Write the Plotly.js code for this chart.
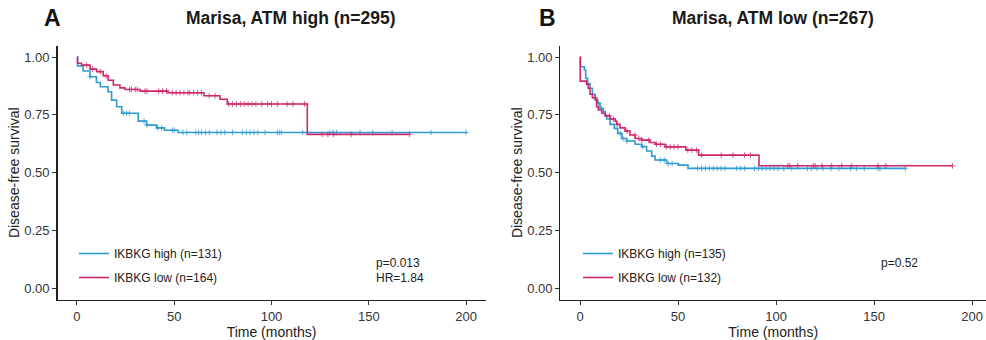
<!DOCTYPE html>
<html>
<head>
<meta charset="utf-8">
<script src="https://cdn.plot.ly/plotly-3.0.1.min.js"></script>
<style>html,body{margin:0;padding:0;background:#fff;}#chart{width:986px;height:340px;}</style>
</head>
<body>
<div id="chart"></div>
<script>
// ---------- Data ----------
// Panel A: Marisa, ATM high (n=295)
const A_high_eventT = [0.3, 3.2, 6.7, 10, 12, 16, 17.8, 20.4, 23, 31.5, 35.8, 41, 45, 52];
const A_high_eventS = [0.962, 0.94, 0.915, 0.89, 0.872, 0.85, 0.814, 0.785, 0.757, 0.723, 0.706, 0.694, 0.684, 0.674];
const A_high_censor = [6.7, 24, 25.5, 27, 34.5, 36, 41.5, 43.5, 49, 50, 54.5, 56.5, 61, 62.5, 64, 66, 68, 72, 74, 76, 80, 85, 87, 89, 91, 93, 96.7, 103, 104, 105, 116, 130, 131.6, 133.5, 145.5, 152, 162, 182, 200];

const A_low_eventT = [0.3, 2.4, 6.7, 10.1, 13.5, 16.1, 18.7, 22.1, 24.7, 32.4, 46.8, 65.3, 73.5, 77.3, 118.4];
const A_low_eventS = [0.973, 0.965, 0.948, 0.937, 0.919, 0.90, 0.879, 0.867, 0.86, 0.853, 0.846, 0.833, 0.818, 0.797, 0.666];
const A_low_censor = [5, 8, 12, 15, 27, 28, 30, 31, 35, 36, 42, 44, 46, 49, 51, 53, 55, 57, 58, 60, 62, 64, 68, 71, 78, 80, 82, 84, 86, 88, 90, 92, 95, 98, 100, 103, 108, 111, 117, 126, 129, 132, 141, 171];

// Panel B: Marisa, ATM low (n=267)
const B_high_eventT = [0.2, 2.2, 2.9, 3.9, 5.1, 6.3, 7.7, 9.0, 10.2, 11.9, 12.8, 13.6, 15.3, 17.5, 19.2, 21.3, 23.8, 28.1, 31.5, 34.0, 36.6, 38.3, 44.2, 50.2, 55.1];
const B_high_eventS = [0.958, 0.944, 0.908, 0.886, 0.865, 0.839, 0.818, 0.80, 0.778, 0.764, 0.749, 0.732, 0.709, 0.692, 0.670, 0.648, 0.637, 0.623, 0.613, 0.594, 0.572, 0.555, 0.540, 0.533, 0.519];
const B_high_censor = [9.5, 11, 20.5, 22, 24, 32, 41, 43, 45, 47, 60, 62, 64, 66, 68, 70, 72, 74, 80, 82, 84, 89, 91, 93, 95, 97, 99, 101, 104, 108, 116, 118, 121, 124, 128, 132, 138, 141, 145, 152, 153, 166];

const B_low_eventT = [0.1, 3.4, 4.2, 5.1, 6.3, 8.0, 8.5, 9.3, 11.1, 12.8, 15.3, 17.9, 18.7, 20.4, 23.0, 25.5, 28.1, 31.5, 35.7, 38.3, 43.4, 54.0, 60.5, 91.3];
const B_low_eventS = [0.896, 0.882, 0.865, 0.839, 0.824, 0.814, 0.785, 0.771, 0.757, 0.746, 0.732, 0.723, 0.709, 0.694, 0.680, 0.663, 0.648, 0.641, 0.631, 0.623, 0.612, 0.598, 0.576, 0.530];
const B_low_censor = [7.7, 15, 17, 19, 24, 28, 30, 31.5, 35, 39, 41, 44, 46, 48, 50, 55, 57, 59.5, 62, 72, 78, 84, 87, 106, 107, 111, 119, 120, 123.5, 128.4, 133.5, 138.6, 152, 156, 190];

const groupNames = {
  A_high: 'IKBKG high (n=131)', A_low: 'IKBKG low (n=164)',
  B_high: 'IKBKG high (n=135)', B_low: 'IKBKG low (n=132)'
};
const panelTitles = ['Marisa, ATM high (n=295)', 'Marisa, ATM low (n=267)'];
const panelLetters = ['A', 'B'];
const statsA = ['p=0.013', 'HR=1.84'];
const statsB = ['p=0.52'];
const xTicks = [0, 50, 100, 150, 200];
const yTicks = [0, 0.25, 0.5, 0.75, 1];

// ---------- Styling ----------
const BLUE = '#2F9BD3', RED = '#D0286C';
const W = 986, H = 340;
const px = x => x / W;
const py = y => 1 - y / H;

function survAt(eT, eS, t) {
  let s = 1;
  for (let i = 0; i < eT.length; i++) { if (eT[i] <= t) s = eS[i]; }
  return s;
}
function kmTraces(eT, eS, cens, color, name, xa, ya, legendId, grp) {
  const tEnd = Math.max(...cens, ...eT);
  const x = [0].concat(eT, [tEnd]);
  const y = [1].concat(eS, [eS[eS.length - 1]]);
  return [
    {type: 'scatter', mode: 'lines', x: x, y: y, xaxis: xa, yaxis: ya,
     line: {shape: 'hv', color: color, width: 1.6}, name: name,
     legend: legendId, legendgroup: grp, hoverinfo: 'skip'},
    {type: 'scatter', mode: 'markers', x: cens, y: cens.map(t => survAt(eT, eS, t)),
     xaxis: xa, yaxis: ya, showlegend: false, hoverinfo: 'skip',
     marker: {symbol: 'cross-thin', size: 4, color: color, opacity: 0.8, line: {color: color, width: 1}}}
  ];
}

const data = [].concat(
  kmTraces(A_high_eventT, A_high_eventS, A_high_censor, BLUE, groupNames.A_high, 'x', 'y', 'legend', 'a1'),
  kmTraces(A_low_eventT, A_low_eventS, A_low_censor, RED, groupNames.A_low, 'x', 'y', 'legend', 'a2'),
  kmTraces(B_high_eventT, B_high_eventS, B_high_censor, BLUE, groupNames.B_high, 'x2', 'y2', 'legend2', 'b1'),
  kmTraces(B_low_eventT, B_low_eventS, B_low_censor, RED, groupNames.B_low, 'x2', 'y2', 'legend2', 'b2')
);

const tickFont = {family: 'Liberation Sans, Arial, sans-serif', size: 13, color: '#333333'};
function xAxis(domain, range, yanchor) {
  return {domain: domain, range: range, anchor: yanchor, tickvals: xTicks, ticks: 'outside', ticklen: 4,
    tickcolor: '#333', tickwidth: 1, showline: true, linecolor: '#222', linewidth: 1.3,
    showgrid: false, zeroline: false, tickfont: tickFont, fixedrange: true,
    title: {text: 'Time (months)', font: {family: 'Liberation Sans, Arial, sans-serif', size: 14, color: '#222'}, standoff: 3}};
}
function yAxis(domain, xanchor) {
  return {domain: domain, range: [-0.05, 1.05], anchor: xanchor, tickvals: yTicks, tickformat: '.2f',
    ticks: 'outside', ticklen: 4, tickcolor: '#333', tickwidth: 1, showline: true, linecolor: '#222',
    linewidth: 1.3, showgrid: false, zeroline: false, tickfont: tickFont, fixedrange: true,
    title: {text: 'Disease-free survival', font: {family: 'Liberation Sans, Arial, sans-serif', size: 14, color: '#222'}, standoff: 1}};
}
const yDom = [py(300), py(45.5)];
const legendFont = {family: 'Liberation Sans, Arial, sans-serif', size: 12, color: '#222'};
const annFont = {family: 'Liberation Sans, Arial, sans-serif', size: 12, color: '#222'};
const titleFont = {family: 'Liberation Sans, Arial, sans-serif', size: 17.5, color: '#1a1a1a'};

const annotations = [
  {text: '<b>' + panelLetters[0] + '</b>', x: px(52), y: py(18), xref: 'paper', yref: 'paper', showarrow: false, xanchor: 'center', yanchor: 'middle', font: {family: 'Liberation Sans, Arial, sans-serif', size: 23, color: '#111'}},
  {text: '<b>' + panelLetters[1] + '</b>', x: px(547), y: py(18), xref: 'paper', yref: 'paper', showarrow: false, xanchor: 'center', yanchor: 'middle', font: {family: 'Liberation Sans, Arial, sans-serif', size: 23, color: '#111'}},
  {text: '<b>' + panelTitles[0] + '</b>', x: px(291), y: py(18), xref: 'paper', yref: 'paper', showarrow: false, xanchor: 'center', yanchor: 'middle', font: titleFont},
  {text: '<b>' + panelTitles[1] + '</b>', x: px(773), y: py(18), xref: 'paper', yref: 'paper', showarrow: false, xanchor: 'center', yanchor: 'middle', font: titleFont},
  {text: statsA[0], x: px(374), y: py(263.3), xref: 'paper', yref: 'paper', showarrow: false, xanchor: 'left', yanchor: 'middle', font: annFont},
  {text: statsA[1], x: px(374), y: py(277.7), xref: 'paper', yref: 'paper', showarrow: false, xanchor: 'left', yanchor: 'middle', font: annFont},
  {text: statsB[0], x: px(879), y: py(263.3), xref: 'paper', yref: 'paper', showarrow: false, xanchor: 'left', yanchor: 'middle', font: annFont}
];

const layout = {
  width: W, height: H, margin: {l: 0, r: 0, t: 0, b: 0},
  paper_bgcolor: '#fff', plot_bgcolor: '#fff',
  xaxis: xAxis([px(57.5), px(485.5)], [-10, 210], 'y'),
  yaxis: yAxis(yDom, 'x'),
  xaxis2: xAxis([px(560.4), 1], [-10, 207.1], 'y2'),
  yaxis2: yAxis(yDom, 'x2'),
  legend: {x: px(74), y: py(239), xanchor: 'left', yanchor: 'top', bgcolor: 'rgba(0,0,0,0)', font: legendFont, tracegroupgap: 5, traceorder: 'grouped'},
  legend2: {x: px(578), y: py(239), xanchor: 'left', yanchor: 'top', bgcolor: 'rgba(0,0,0,0)', font: legendFont, tracegroupgap: 5, traceorder: 'grouped'},
  annotations: annotations,
  showlegend: true
};

Plotly.newPlot('chart', data, layout, {displayModeBar: false, staticPlot: true});
</script>
</body>
</html>
